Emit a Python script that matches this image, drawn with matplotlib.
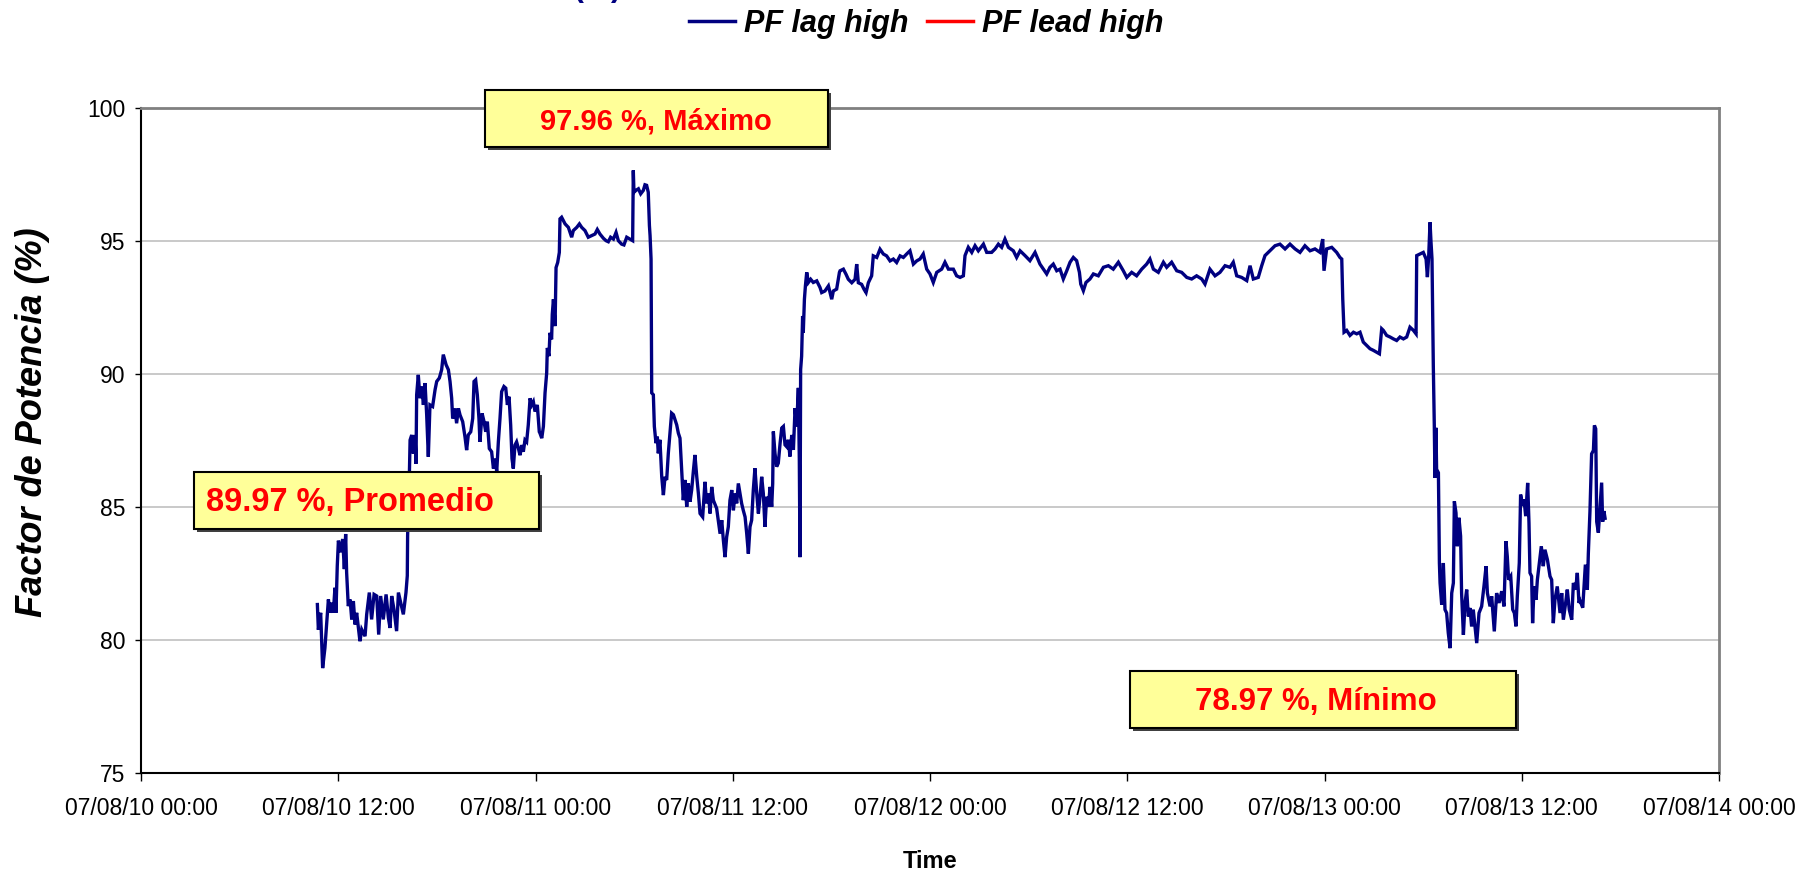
import matplotlib
matplotlib.use('Agg')
import matplotlib.pyplot as plt
import matplotlib.dates as mdates
from matplotlib.patches import Rectangle
from matplotlib.lines import Line2D
import datetime as dt

plt.rcParams['font.family'] = ['Liberation Sans', 'DejaVu Sans']

# ---------------- data ----------------
start = dt.datetime(2007, 8, 10)

hours = [
    10.73, 10.79, 10.93, 11.05, 11.19, 11.30, 11.40, 11.50, 11.60, 11.70, 11.80, 11.86, 11.94, 12.01, 12.11,
    12.27, 12.37, 12.45, 12.51, 12.61, 12.72, 12.82, 12.92, 13.02, 13.12, 13.32, 13.43, 13.63, 13.73, 13.89,
    14.03, 14.18, 14.34, 14.46, 14.58, 14.74, 14.91, 15.05, 15.15, 15.25, 15.39, 15.55, 15.66, 15.80, 15.96,
    16.12, 16.20, 16.22, 16.33, 16.37, 16.47, 16.57, 16.67, 16.73, 16.77, 16.87, 16.97, 17.08, 17.18, 17.28,
    17.38, 17.48, 17.58, 17.74, 17.89, 17.99, 18.15, 18.29, 18.39, 18.56, 18.70, 18.80, 18.90, 18.96, 19.10,
    19.20, 19.31, 19.41, 19.57, 19.71, 19.81, 19.91, 20.06, 20.18, 20.26, 20.36, 20.46, 20.56, 20.62, 20.75,
    20.87, 20.97, 21.07, 21.19, 21.33, 21.44, 21.56, 21.64, 21.74, 21.84, 21.94, 22.08, 22.19, 22.29, 22.39,
    22.49, 22.57, 22.65, 22.75, 22.85, 22.96, 23.06, 23.16, 23.26, 23.36, 23.46, 23.56, 23.67, 23.77, 23.87,
    23.97, 24.11, 24.23,
    24.27, 24.38, 24.48, 24.58, 24.68, 24.72, 24.82, 24.88, 24.98, 25.02, 25.09, 25.19, 25.25, 25.35, 25.45,
    25.49, 25.59, 25.80, 26.00, 26.20, 26.30, 26.51, 26.67, 26.81, 27.01, 27.21, 27.42, 27.62, 27.76, 27.92,
    28.13, 28.29, 28.43, 28.57, 28.74, 28.90, 29.04, 29.24, 29.38, 29.55, 29.75, 29.91, 29.95, 29.99, 30.11,
    30.26, 30.40, 30.56, 30.66, 30.76, 30.86, 30.93, 30.97, 31.03, 31.07, 31.17, 31.23, 31.33, 31.41, 31.47,
    31.57, 31.68, 31.78, 31.88, 31.98, 32.08, 32.18, 32.28, 32.39, 32.49, 32.59, 32.69, 32.79, 32.89, 32.99,
    33.10, 33.20, 33.30, 33.40, 33.50, 33.60, 33.70, 33.81, 33.91, 34.01, 34.17, 34.31, 34.41, 34.52, 34.62,
    34.72, 34.82, 35.02,
    35.23, 35.33, 35.43, 35.53, 35.63, 35.73, 35.83, 35.94, 36.04, 36.14, 36.24, 36.34, 36.44, 36.54, 36.64,
    36.75, 36.85, 36.95, 37.05, 37.15, 37.25, 37.35, 37.46, 37.56, 37.66, 37.76, 37.86, 37.96, 38.06, 38.17,
    38.27, 38.37, 38.43, 38.47, 38.57, 38.67, 38.77, 38.88, 38.98, 39.08, 39.18, 39.28, 39.38, 39.48, 39.59,
    39.69, 39.79, 39.89, 39.99, 40.05, 40.09, 40.13, 40.19, 40.25, 40.29, 40.36, 40.42, 40.50, 40.60, 40.74,
    40.90, 41.11, 41.31, 41.41, 41.61, 41.82, 42.02, 42.12, 42.32, 42.49,
    42.53, 42.73, 42.89, 43.03, 43.24, 43.44, 43.54, 43.64, 43.84, 43.99, 44.11, 44.25, 44.45, 44.55, 44.76,
    44.96, 45.16, 45.36, 45.57, 45.77, 45.97, 46.18, 46.38, 46.58, 46.78, 46.99, 47.19,
    47.39, 47.59, 47.80, 48.00, 48.20, 48.41, 48.71, 48.91, 49.12, 49.42, 49.62, 49.83, 50.03, 50.13, 50.33,
    50.54, 50.74, 50.94, 51.25, 51.45, 51.75, 51.96, 52.16, 52.36, 52.56, 52.77, 53.07, 53.27, 53.48, 53.78,
    54.08, 54.39, 54.69, 54.90, 55.10, 55.30, 55.50, 55.71, 55.91, 56.11, 56.32, 56.52, 56.72, 56.92, 57.09,
    57.17, 57.33, 57.49, 57.73, 57.94, 58.24, 58.55, 58.85, 59.15, 59.46, 59.76, 59.97, 60.27, 60.57, 60.88,
    61.18, 61.38, 61.59, 61.89, 62.20, 62.40, 62.70, 63.01, 63.31, 63.62, 63.92, 64.22, 64.53, 64.73, 65.03,
    65.34, 65.64, 65.95, 66.25, 66.45, 66.66, 66.96, 67.27, 67.47, 67.67, 67.97, 68.18, 68.38, 68.68, 68.99,
    69.29, 69.60, 69.90, 70.21, 70.51, 70.81, 71.12, 71.42, 71.73, 71.89, 71.97, 72.13, 72.44, 72.74, 72.94,
    73.05, 73.11, 73.19, 73.35, 73.55, 73.76, 73.96, 74.16, 74.36, 74.57, 74.77, 74.97, 75.17, 75.34, 75.48,
    75.58, 75.78, 75.99, 76.19, 76.39, 76.59, 76.80, 77.00, 77.20, 77.41, 77.57, 77.61, 77.81, 78.01, 78.18,
    78.26, 78.34, 78.42, 78.48, 78.54,
    78.62, 78.68, 78.72, 78.78, 78.82, 78.93, 78.99, 79.03, 79.13, 79.23, 79.33, 79.43, 79.53, 79.64, 79.74,
    79.84, 79.90, 80.00, 80.08, 80.18, 80.28, 80.34, 80.45, 80.55, 80.65, 80.75, 80.85, 80.95, 81.05, 81.26,
    81.40, 81.56, 81.70, 81.83, 81.91, 82.07, 82.17, 82.33, 82.47, 82.62, 82.78, 82.92, 83.04, 83.12, 83.20,
    83.33, 83.45, 83.55, 83.65, 83.73, 83.85, 83.93, 84.06, 84.14, 84.24, 84.36, 84.44, 84.50, 84.60, 84.66,
    84.75, 84.87, 84.95, 85.07, 85.19, 85.31, 85.41, 85.56, 85.72, 85.82, 85.92, 86.02, 86.16, 86.33, 86.43,
    86.53, 86.67, 86.77, 86.89, 87.04, 87.14, 87.28, 87.38, 87.48,
    87.54, 87.71, 87.79, 87.87, 87.99, 88.05, 88.15, 88.25, 88.36, 88.42, 88.50, 88.56, 88.66, 88.76, 88.86,
    88.92, 89.00, 89.07,
]

pf_lag_high = [
    81.33, 80.38, 81.02, 78.94, 79.70, 80.64, 81.52, 81.02, 81.40, 81.02, 81.96, 81.02, 82.78, 83.73, 83.29,
    83.79, 82.66, 83.98, 82.53, 81.27, 81.52, 80.77, 81.46, 80.58, 81.02, 79.95, 80.39, 80.14, 80.96, 81.78,
    80.77, 81.71, 81.65, 80.20, 81.65, 80.77, 81.71, 80.83, 80.45, 81.65, 81.15, 80.33, 81.78, 81.40, 80.96,
    81.78, 82.41, 83.92, 86.31, 87.51, 87.70, 87.00, 87.70, 86.62, 89.21, 89.96, 89.08, 89.52, 88.83, 89.65,
    88.45, 86.88, 88.83, 88.77, 89.40, 89.71, 89.84, 90.15, 90.72, 90.34, 90.15, 89.71, 89.08, 88.32, 88.70,
    88.14, 88.70, 88.45, 88.20, 87.63, 87.13, 87.70, 87.82, 88.32, 89.71, 89.77, 89.21, 88.32, 87.44, 88.51,
    88.20, 87.82, 88.20, 87.19, 87.07, 86.44, 86.81, 86.31, 87.44, 88.32, 89.33, 89.52, 89.46, 88.83, 89.14,
    88.07, 86.81, 86.44, 87.32, 87.44, 87.19, 86.94, 87.32, 87.07, 87.51, 87.44, 88.07, 89.08, 88.83, 88.95,
    88.58, 88.83, 87.82,
    87.77, 87.58, 88.02, 89.28, 90.03, 90.97, 90.66, 91.54, 91.29, 92.23, 92.80, 91.79, 93.99, 94.18, 94.56,
    95.82, 95.88, 95.63, 95.50, 95.13, 95.38, 95.50, 95.63, 95.50, 95.38, 95.13, 95.19, 95.25, 95.42, 95.25,
    95.09, 95.00, 94.96, 95.13, 95.06, 95.31, 95.00, 94.87, 94.84, 95.13, 95.06, 95.00, 97.64, 96.82, 96.89,
    96.95, 96.76, 96.89, 97.10, 97.08, 96.82, 95.57, 95.19, 94.31, 89.28, 89.21, 88.02, 87.39, 87.64, 87.01,
    87.52, 86.13, 85.44, 86.13, 86.01, 87.01, 87.77, 88.52, 88.46, 88.27, 88.08, 87.77, 87.58, 86.38, 85.25,
    86.01, 85.00, 85.88, 85.19, 85.63, 86.32, 86.95, 86.13, 85.50, 84.75, 84.62, 85.94, 85.13, 85.50, 84.75,
    85.75, 85.25, 84.94,
    83.99, 84.50, 83.74, 83.11, 83.87, 84.25, 85.25, 85.63, 84.87, 85.50, 85.13, 85.88, 85.50, 85.13, 84.87,
    84.62, 83.99, 83.24, 84.25, 84.50, 85.63, 86.45, 85.50, 84.75, 85.38, 86.13, 85.50, 84.25, 85.38, 85.00,
    85.75, 85.00, 85.88, 87.83, 87.01, 86.51, 86.64, 87.39, 87.96, 88.02, 87.33, 87.26, 87.52, 86.89, 87.70,
    87.14, 88.71, 88.02, 89.47, 86.76, 83.11, 90.16, 90.66, 92.17, 91.54, 92.80, 93.30, 93.81, 93.43, 93.55,
    93.43, 93.49, 93.24, 93.05, 93.11, 93.30, 92.80, 93.11, 93.18, 93.81,
    93.87, 93.93, 93.74, 93.55, 93.42, 93.55, 94.12, 93.42, 93.36, 93.17, 93.05, 93.42, 93.68, 94.43, 94.37,
    94.68, 94.50, 94.43, 94.24, 94.31, 94.18, 94.43, 94.37, 94.50, 94.62, 94.12, 94.24,
    94.31, 94.50, 93.93, 93.75, 93.43, 93.81, 93.93, 94.19, 93.93, 93.93, 93.68, 93.62, 93.68, 94.44, 94.75,
    94.56, 94.81, 94.62, 94.87, 94.56, 94.56, 94.69, 94.87, 94.75, 95.06, 94.75, 94.62, 94.37, 94.62, 94.44,
    94.25, 94.56, 94.12, 93.93, 93.75, 94.00, 94.12, 93.87, 93.93, 93.56, 93.87, 94.19, 94.37, 94.25, 93.81,
    93.37, 93.12, 93.43, 93.56, 93.75, 93.68, 94.00, 94.06, 93.93, 94.19, 93.87, 93.62, 93.81, 93.68, 93.93,
    94.12, 94.31, 93.93, 93.81, 94.19, 94.00, 94.19, 93.87, 93.81, 93.62, 93.56, 93.68, 93.56, 93.37, 93.93,
    93.68, 93.81, 94.06, 94.00, 94.19, 93.68, 93.62, 93.50, 94.06, 93.56, 93.62, 94.06, 94.44, 94.62, 94.81,
    94.87, 94.69, 94.87, 94.69, 94.56, 94.81, 94.62, 94.69, 94.56, 95.06, 93.87, 94.69, 94.75, 94.56, 94.37,
    94.31, 92.81, 91.56, 91.63, 91.44, 91.56, 91.50, 91.56, 91.19, 91.06, 90.94, 90.88, 90.81, 90.75, 91.69,
    91.63, 91.44, 91.38, 91.31, 91.25, 91.38, 91.31, 91.38, 91.75, 91.63, 91.50, 94.44, 94.50, 94.56, 94.31,
    93.63, 94.44, 95.69, 94.94, 94.31,
    90.29, 88.04, 86.09, 87.97, 86.41, 86.28, 82.89, 82.14, 81.32, 82.89, 81.14, 81.01, 80.26, 79.69, 81.76,
    82.14, 85.21, 84.77, 83.52, 84.59, 83.90, 81.76, 80.19, 81.39, 81.89, 80.88, 81.20, 80.51, 81.14, 79.88,
    81.01, 81.26, 82.01, 82.77, 81.76, 81.26, 81.64, 80.32, 81.76, 81.39, 81.83, 81.26, 83.71, 83.14, 82.26,
    82.39, 81.14, 81.01, 80.51, 81.64, 82.89, 85.46, 85.03, 85.28, 84.65, 85.90, 84.40, 82.52, 82.39, 80.63,
    82.01, 81.51, 82.26, 82.89, 83.52, 82.77, 83.39, 83.02, 82.39, 82.26, 80.63, 81.51, 82.01, 81.01, 81.76,
    80.76, 81.39, 81.89, 81.14, 80.76, 82.14, 81.89, 82.52, 81.39,
    81.48, 81.21, 82.02, 82.83, 81.89, 83.23, 84.84, 86.99, 87.12, 88.06, 87.93, 84.44, 84.03, 84.97, 85.91,
    84.44, 84.84, 84.57,
]

series_names = ['PF lag high', 'PF lead high']
series_colors = ['#000080', '#FF0000']
y_ticks = [75, 80, 85, 90, 95, 100]
annotations = ['97.96 %, Máximo', '89.97 %, Promedio', '78.97 %, Mínimo']

times = [start + dt.timedelta(hours=h) for h in hours]

# ---------------- figure ----------------
W, H = 1814, 871
fig = plt.figure(figsize=(W / 100, H / 100), dpi=100)
fig.patch.set_facecolor('white')
ax = fig.add_axes([141 / W, 1 - 773 / H, (1719 - 141) / W, (773 - 107.6) / H])

ax.plot(times, pf_lag_high, color=series_colors[0], lw=2.4, solid_joinstyle='miter', zorder=3)

ax.set_xlim(start, start + dt.timedelta(days=4))
ax.set_ylim(75, 100)
ax.set_yticks(y_ticks)
ax.set_xticks([start + dt.timedelta(hours=12 * i) for i in range(9)])
ax.xaxis.set_major_formatter(mdates.DateFormatter('%y/%m/%d %H:%M'))

ax.grid(axis='y', color='#C0C0C0', lw=1.2)
ax.set_axisbelow(True)
for side in ['top', 'right']:
    ax.spines[side].set_color('#808080')
    ax.spines[side].set_linewidth(2.0)
for side in ['left', 'bottom']:
    ax.spines[side].set_color('black')
    ax.spines[side].set_linewidth(1.5)

ax.tick_params(axis='x', direction='out', length=5.5, width=1, color='black',
               labelsize=16.5, pad=12)
ax.tick_params(axis='y', direction='out', length=4, width=1, color='black',
               labelsize=16.5, pad=7)

# axis labels
fig.text(33 / W, 1 - 422 / H, 'Factor de Potencia (%)', rotation=90,
         ha='center', va='center', fontsize=26, fontweight='bold', fontstyle='italic')
fig.text(930 / W, 1 - 861 / H, 'Time', ha='center', va='center',
         fontsize=17, fontweight='bold')

# clipped title remnant at the very top (only its lowest pixels are visible, as in the original)
fig.text(621 / W, 1 + 4 / H, 'Factor de Potencia (%)', ha='right', va='baseline',
         fontsize=22, fontweight='bold', color='#000080')

# legend
handles = [Line2D([], [], color=c, lw=2.5) for c in series_colors]
fig.legend(handles, series_names, loc='center', bbox_to_anchor=(926 / W, 1 - 24 / H),
           ncol=2, frameon=False, handlelength=1.5, handletextpad=0.3, columnspacing=0.6,
           prop={'size': 22, 'weight': 'bold', 'style': 'italic'})

# annotation boxes (pixel geometry: x0, x1, y_top, y_bottom, text centre x, text centre y, size)
boxes = [
    (485, 828, 90, 147, 656, 121, 21),
    (194, 539, 472, 529, 350, 503, 23.5),
    (1130, 1516, 671, 728, 1316, 702, 22.5),
]
for (x0, x1, yt, yb, tx, ty, fs), label in zip(boxes, annotations):
    shadow = Rectangle(((x0 + 3) / W, 1 - (yb + 3) / H), (x1 - x0) / W, (yb - yt) / H,
                       transform=fig.transFigure, facecolor='#404040', edgecolor='none',
                       zorder=9)
    box = Rectangle((x0 / W, 1 - yb / H), (x1 - x0) / W, (yb - yt) / H,
                    transform=fig.transFigure, facecolor='#FFFF99', edgecolor='black',
                    lw=1.5, zorder=10)
    fig.add_artist(shadow)
    fig.add_artist(box)
    fig.text(tx / W, 1 - ty / H, label, ha='center', va='center', color='#FF0000',
             fontsize=fs, fontweight='bold', zorder=11)

fig.savefig('out.png', dpi=100, facecolor='white')
